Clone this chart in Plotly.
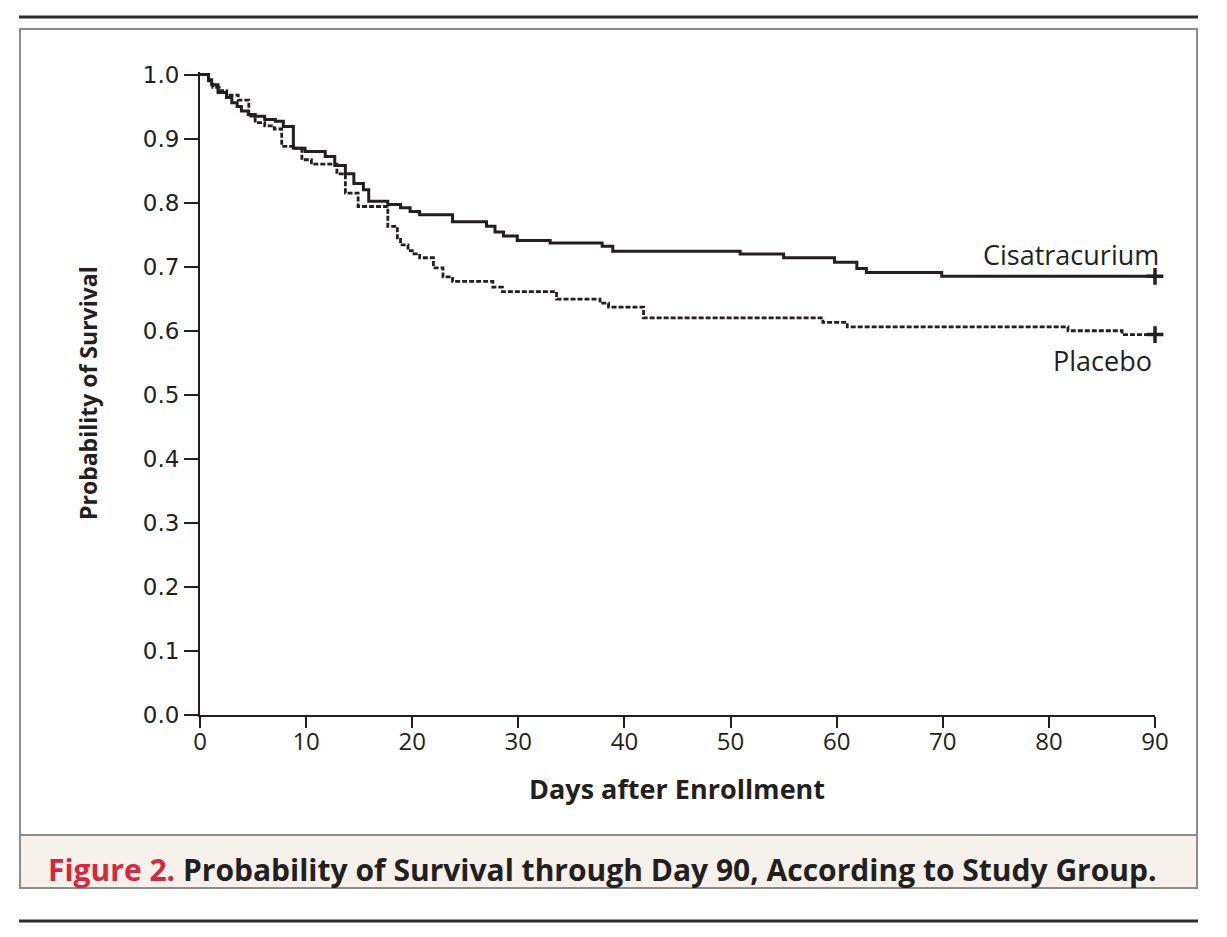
import plotly.graph_objects as go

# ---- data ----
cis_days = [0, 0.8, 1.1, 1.7, 2.5, 3.0, 3.5, 3.9, 4.55, 5.2, 6.1, 7.1, 7.85, 8.8, 9.9,
            11.8, 12.7, 13.7, 14.5, 15.4, 15.9, 17.7, 18.9, 19.8, 20.7, 23.8, 27.0,
            27.8, 28.6, 29.9, 33.0, 37.9, 38.9, 50.9, 55.0, 59.8, 61.9, 62.8, 69.9, 90]
cis_surv = [1.0, 0.992, 0.984, 0.972, 0.964, 0.956, 0.95, 0.943, 0.9375, 0.935, 0.930,
            0.927, 0.919, 0.885, 0.880, 0.872, 0.858, 0.845, 0.83, 0.82, 0.802, 0.797,
            0.792, 0.786, 0.781, 0.770, 0.763, 0.754, 0.748, 0.741, 0.737, 0.732, 0.724,
            0.720, 0.714, 0.707, 0.697, 0.691, 0.685, 0.685]

pla_days = [0, 0.8, 1.2, 1.8, 2.5, 3.6, 4.6, 5.2, 6.1, 7.0, 7.7, 8.8, 9.6, 10.5, 12.9,
            13.7, 14.9, 17.7, 18.6, 18.9, 19.6, 20.0, 20.7, 22.0, 22.9, 23.8, 27.6,
            28.5, 33.6, 37.7, 38.5, 41.8, 58.7, 61.0, 81.8, 86.9, 90]
pla_surv = [1.0, 0.99, 0.98, 0.975, 0.968, 0.96, 0.935, 0.925, 0.92, 0.915, 0.888,
            0.885, 0.867, 0.86, 0.845, 0.815, 0.794, 0.763, 0.745, 0.734, 0.725, 0.72,
            0.714, 0.698, 0.684, 0.677, 0.668, 0.661, 0.6495, 0.643, 0.637, 0.620,
            0.613, 0.606, 0.600, 0.594, 0.594]

x_ticks = [0, 10, 20, 30, 40, 50, 60, 70, 80, 90]
y_ticks = [0.0, 0.1, 0.2, 0.3, 0.4, 0.5, 0.6, 0.7, 0.8, 0.9, 1.0]
y_tick_labels = ["0.0", "0.1", "0.2", "0.3", "0.4", "0.5", "0.6", "0.7", "0.8", "0.9", "1.0"]

INK = "#231f20"
FONT = "Open Sans, sans-serif"
OFF = 8                      # page body margin offset
W, H = 1227 - OFF, 937 - OFF
# plot area in screen pixels: x 200..1155, y 75(1.0)..715(0.0)
ML, MR = 200 - OFF, 1227 - 1155
MB = 937 - 715
MT = int(round(715 - 640 * 1.004)) - OFF
PW, PH = W - ML - MR, H - MT - MB


def px(x):
    """screen x pixel -> paper coordinate"""
    return (x - OFF - ML) / PW


def py(y):
    """screen y pixel -> paper coordinate"""
    return (715 - y) / PH


fig = go.Figure()
fig.add_trace(go.Scatter(x=cis_days, y=cis_surv, mode="lines", line_shape="hv",
                         line=dict(color=INK, width=3), name="Cisatracurium",
                         showlegend=False))
fig.add_trace(go.Scatter(x=pla_days, y=pla_surv, mode="lines", line_shape="hv",
                         line=dict(color=INK, width=2.8, dash="5px,2px"), name="Placebo",
                         showlegend=False))
fig.add_trace(go.Scatter(x=[cis_days[-1], pla_days[-1]], y=[cis_surv[-1], pla_surv[-1]],
                         mode="markers", cliponaxis=False, showlegend=False,
                         marker=dict(symbol="cross-thin", size=12,
                                     line=dict(color=INK, width=3.5))))

shapes = [
    # right page strip
    dict(type="rect", xref="paper", yref="paper", x0=px(1222), x1=px(1227), y0=py(OFF), y1=py(937),
         fillcolor="#f1f1f1", line=dict(width=0), layer="below"),
    # outer frame
    dict(type="rect", xref="paper", yref="paper", x0=px(20), x1=px(1197), y0=py(29), y1=py(888),
         line=dict(color="#8c8c8c", width=2), layer="below"),
    # caption band
    dict(type="rect", xref="paper", yref="paper", x0=px(20), x1=px(1197), y0=py(835), y1=py(888),
         fillcolor="#f6f1ea", line=dict(color="#8c8c8c", width=2), layer="below"),
    # top and bottom rules
    dict(type="line", xref="paper", yref="paper", x0=px(19), x1=px(1198), y0=py(17), y1=py(17),
         line=dict(color="#2e2e2e", width=3)),
    dict(type="line", xref="paper", yref="paper", x0=px(19), x1=px(1198), y0=py(921), y1=py(921),
         line=dict(color="#2e2e2e", width=3)),
]

annotations = [
    dict(text="<b>Probability of Survival</b>", xref="paper", yref="paper", x=px(88), y=py(393),
         textangle=-90, showarrow=False, xanchor="center", yanchor="middle",
         font=dict(family=FONT, size=23, color=INK)),
    dict(text="<b>Days after Enrollment</b>", xref="paper", yref="paper", x=px(677), y=py(788),
         showarrow=False, xanchor="center", yanchor="middle",
         font=dict(family=FONT, size=27, color=INK)),
    dict(text="Cisatracurium", xref="paper", yref="paper", x=px(1161), y=py(254),
         showarrow=False, xanchor="right", yanchor="middle",
         font=dict(family=FONT, size=27, color=INK)),
    dict(text="Placebo", xref="paper", yref="paper", x=px(1154), y=py(360),
         showarrow=False, xanchor="right", yanchor="middle",
         font=dict(family=FONT, size=27, color=INK)),
    dict(text="<b><span style='color:#d8263f'>Figure 2.</span> Probability of Survival through Day 90, According to Study Group.</b>",
         xref="paper", yref="paper", x=px(46), y=py(869), showarrow=False,
         xanchor="left", yanchor="middle",
         font=dict(family=FONT, size=30, color=INK)),
]

fig.update_layout(
    width=W, height=H,
    margin=dict(l=ML, r=MR, t=MT, b=MB, pad=0),
    paper_bgcolor="white", plot_bgcolor="white",
    shapes=shapes, annotations=annotations,
    xaxis=dict(range=[0, 90], tickvals=x_ticks, ticktext=[str(v) for v in x_ticks],
               showline=True, linecolor=INK, linewidth=2, showgrid=False, zeroline=False,
               ticks="outside", ticklen=11, tickwidth=2, tickcolor=INK,
               ticklabelstandoff=-7,
               tickfont=dict(family=FONT, size=24, color=INK)),
    yaxis=dict(range=[0, 1.004], tickvals=y_ticks, ticktext=y_tick_labels,
               showline=True, linecolor=INK, linewidth=2, showgrid=False, zeroline=False,
               ticks="outside", ticklen=14, tickwidth=2, tickcolor=INK,
               tickfont=dict(family="DejaVu Sans", size=23, color=INK)),
)

fig.write_html("out.html")
